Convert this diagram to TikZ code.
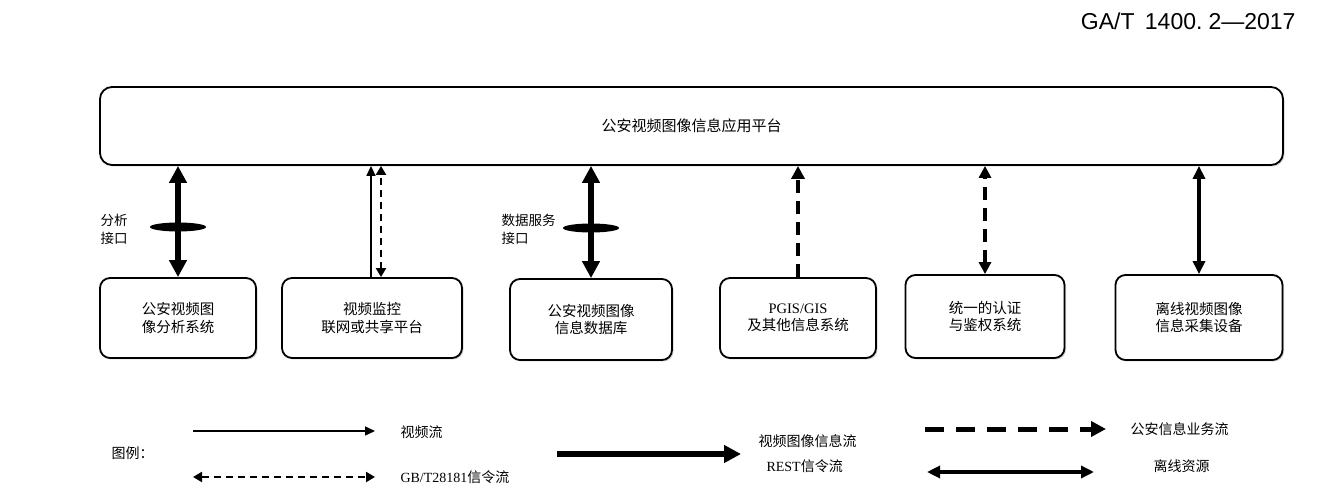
\documentclass[tikz,border=0pt]{standalone}
\usepackage{fontspec}
\setmainfont{Liberation Serif}
\newfontfamily\cjk{Noto Sans CJK SC}
\newfontfamily\titlefont{Liberation Sans}
\usetikzlibrary{arrows.meta,shapes.geometric,shadows}
\tikzset{
  sysbox/.style={draw, line width=1.8pt, rounded corners=10pt, fill=white, align=center,
    inner sep=2pt, font=\cjk\fontsize{14.5}{17.5}\selectfont,
    drop shadow={shadow xshift=1.5pt, shadow yshift=-1.5pt, fill=gray!70}},
  ifmark/.style={ellipse, fill=black, inner sep=0pt, minimum width=56pt, minimum height=9pt},
  iflabel/.style={anchor=west, align=left, font=\cjk\fontsize{13.5}{18}\selectfont},
  lglabel/.style={anchor=west, font=\cjk\fontsize{14}{16}\selectfont},
  videoflow/.style={line width=1.5pt, -{Triangle[length=10pt,width=9pt]}},
  gbflow/.style={line width=2pt, dash pattern=on 7pt off 5pt, {Triangle[length=9pt,width=10pt]}-{Triangle[length=9pt,width=10pt]}},
  restflow/.style={line width=5.5pt, {Triangle[length=17pt,width=17pt]}-{Triangle[length=17pt,width=17pt]}},
  bizflow/.style={line width=4.5pt, dash pattern=on 13pt off 8pt, -{Triangle[length=13pt,width=13pt]}},
  offflow/.style={line width=3.5pt, {Triangle[length=13pt,width=12pt]}-{Triangle[length=13pt,width=12pt]}}
}
\begin{document}
\begin{tikzpicture}[x=1pt,y=-1pt]
\useasboundingbox (0,0) rectangle (1331,494);

\node[anchor=east, font=\titlefont\fontsize{23}{25}\selectfont] (std) at (1299,21) {GA/T\hspace{4pt} 1400.\hspace{6pt}2—2017};

% platform and systems
\node[sysbox, rounded corners=12pt, minimum width=1183pt, minimum height=78pt,
  font=\cjk\fontsize{15}{17}\selectfont] (plat) at (691.5,126) {公安视频图像信息应用平台};

\node[sysbox, minimum width=156pt, minimum height=80pt] (ana) at (178,318) {公安视频图\\像分析系统};
\node[sysbox, minimum width=180pt, minimum height=80pt] (net) at (372,318) {视频监控\\联网或共享平台};
\node[sysbox, minimum width=162pt, minimum height=81pt] (db) at (591,319.5) {公安视频图像\\信息数据库};
\node[sysbox, minimum width=156pt, minimum height=80pt] (gis) at (798,318) {{\rmfamily PGIS/GIS}\\及其他信息系统};
\node[sysbox, minimum width=159pt, minimum height=83pt] (auth) at (985,316.5) {统一的认证\\与鉴权系统};
\node[sysbox, minimum width=167pt, minimum height=85pt] (off) at (1199,317.5) {离线视频图像\\信息采集设备};

% flows between platform and systems
\coordinate (netv) at ([xshift=-1pt]net.north);
\coordinate (nets) at ([xshift=9pt]net.north);
\draw[restflow] (ana.north) -- (ana.north |- plat.south);
\draw[videoflow] (netv) -- (netv |- plat.south);
\draw[gbflow] (nets) -- (nets |- plat.south);
\draw[restflow] (db.north) -- (db.north |- plat.south);
\draw[bizflow] (gis.north) -- (gis.north |- plat.south);
\draw[bizflow, {Triangle[length=12pt,width=12pt]}-{Triangle[length=12pt,width=12pt]}] (auth.north) -- (auth.north |- plat.south);
\draw[offflow] (off.north) -- (off.north |- plat.south);

% interfaces
\node[ifmark] (anaif) at (178,227) {};
\node[ifmark] (dbif) at (591,228) {};
\node[iflabel] (anal) at (97,229) {分析\\接口};
\node[iflabel] (dbl) at (498,229) {数据服务\\接口};

% legend
\node[lglabel] (lg) at (108,453) {图例：};
\coordinate (v1) at (193,431);  \coordinate (v2) at (375,431);
\coordinate (g1) at (193,477);  \coordinate (g2) at (375,477);
\coordinate (r1) at (557,454);  \coordinate (r2) at (741,454);
\coordinate (p1) at (925,429);  \coordinate (p2) at (1106,429);
\coordinate (o1) at (927,472);  \coordinate (o2) at (1094,472);
\draw[videoflow] (v1) -- (v2);
\draw[gbflow] (g1) -- (g2);
\draw[restflow, -{Triangle[length=17pt,width=17pt]}] (r1) -- (r2);
\draw[bizflow, line width=5pt, dash pattern=on 19pt off 12pt, -{Triangle[length=15pt,width=15pt]}] (p1) -- (p2);
\draw[offflow] (o1) -- (o2);
\node[lglabel] (vl) at (397,432) {视频流};
\node[lglabel] (gl) at (397,477) {{\rmfamily GB/T28181}信令流};
\node[lglabel] (rl) at (755,441) {视频图像信息流};
\node[lglabel] (rl2) at (763,466) {{\rmfamily REST}信令流};
\node[lglabel] (pl) at (1127,429) {公安信息业务流};
\node[lglabel] (ol) at (1150,466) {离线资源};
\end{tikzpicture}
\end{document}
